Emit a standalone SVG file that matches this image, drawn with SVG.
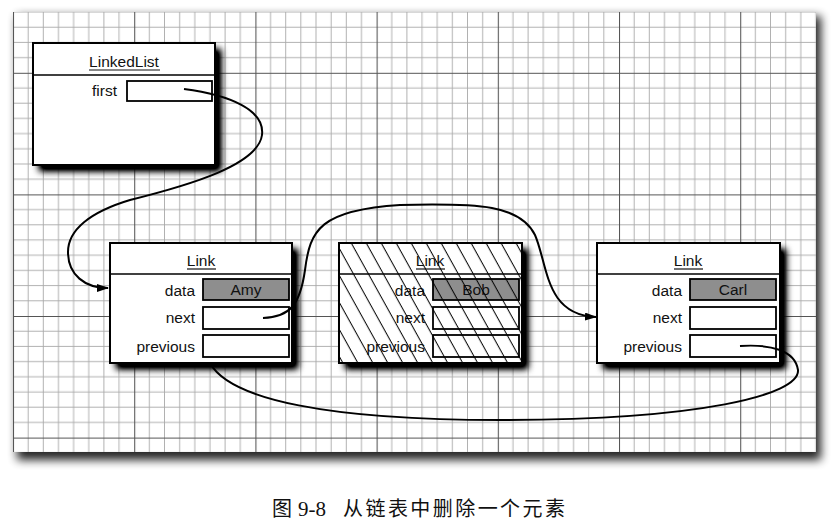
<svg xmlns="http://www.w3.org/2000/svg" width="832" height="526" viewBox="0 0 832 526">
<style>
.box{fill:#fff;stroke:#000;stroke-width:2}
.fld{fill:#fff;stroke:#000;stroke-width:1.8}
.dat{fill:#8e8e8e;stroke:#000;stroke-width:1.8}
.div{stroke:#000;stroke-width:1.5}
.t{font-family:"Liberation Sans",Arial,sans-serif;font-size:15.5px;fill:#111}
.r{text-anchor:end}
.c{text-anchor:middle}
.ul{stroke:#111;stroke-width:1.2}
.sh{fill:#000;filter:url(#blur)}
.edge{fill:none;stroke:#000;stroke-width:2}
.cap{font-family:"Noto Sans CJK SC","Liberation Serif",serif;font-size:20px;fill:#111}
</style>
<defs>
<filter id="blur" x="-20%" y="-20%" width="140%" height="140%"><feGaussianBlur stdDeviation="3.5"/><feComponentTransfer><feFuncA type="linear" slope="1.4"/></feComponentTransfer></filter>
<filter id="pblur" x="-10%" y="-10%" width="120%" height="130%"><feGaussianBlur stdDeviation="5"/></filter>
<pattern id="grid" patternUnits="userSpaceOnUse" x="13" y="72.8" width="121.2" height="121.6">
<g stroke="#a8a8a8" stroke-width="0.9">
<path d="M15.15,0V121.6M30.3,0V121.6M45.45,0V121.6M60.6,0V121.6M75.75,0V121.6M90.9,0V121.6M106.05,0V121.6"/>
<path d="M0,15.2H121.2M0,30.4H121.2M0,45.6H121.2M0,60.8H121.2M0,76H121.2M0,91.2H121.2M0,106.4H121.2"/>
</g>
<path d="M0.5,0V121.6M0,0.5H121.2" stroke="#555" stroke-width="1.1"/>
</pattern>
<pattern id="hatch" patternUnits="userSpaceOnUse" width="13.1" height="20" patternTransform="rotate(-29)">
<path d="M6,0V20" stroke="#000" stroke-width="1"/>
</pattern>
<marker id="arr" markerWidth="12" markerHeight="8" refX="11" refY="4" orient="auto" markerUnits="userSpaceOnUse">
<path d="M0,0L12,4L0,8z" fill="#000"/>
</marker>
<clipPath id="bobclip"><rect x="339" y="243" width="183" height="120"/></clipPath>
</defs>

<g id="paper">
<rect x="17" y="16" width="804" height="444" fill="#000" opacity="0.85" filter="url(#pblur)"/>
<rect x="13" y="12" width="803" height="440" fill="#fff"/>
<rect x="13" y="12" width="803" height="440" fill="url(#grid)"/>
</g>

<g id="linkedlist">
<rect x="39" y="49" width="182" height="122" class="sh"/>
<rect x="33" y="43" width="182" height="122" class="box"/>
<line x1="33" y1="75" x2="215" y2="75" class="div"/>
<text x="124" y="67" class="t c">LinkedList</text>
<line x1="89" y1="70" x2="160" y2="70" class="ul"/>
<text x="117" y="96" class="t r">first</text>
<rect x="127" y="81" width="85" height="20" class="fld"/>
</g>

<g id="amy">
<rect x="116" y="249" width="182" height="120" class="sh"/>
<rect x="110" y="243" width="182" height="120" class="box"/>
<line x1="110" y1="274" x2="292" y2="274" class="div"/>
<text x="201" y="266" class="t c">Link</text>
<line x1="187" y1="269" x2="216" y2="269" class="ul"/>
<text x="195" y="296" class="t r">data</text>
<text x="195" y="323" class="t r">next</text>
<text x="195" y="352" class="t r">previous</text>
<rect x="203" y="279" width="86" height="21" class="dat"/>
<text x="246" y="295" class="t c">Amy</text>
<rect x="203" y="307" width="86" height="22" class="fld"/>
<rect x="203" y="335" width="86" height="22" class="fld"/>
</g>

<g id="bob">
<rect x="345" y="249" width="183" height="120" class="sh"/>
<rect x="339" y="243" width="183" height="120" class="box"/>
<line x1="339" y1="274" x2="522" y2="274" class="div"/>
<text x="430" y="266" class="t c">Link</text>
<line x1="416" y1="269" x2="445" y2="269" class="ul"/>
<text x="425" y="296" class="t r">data</text>
<text x="425" y="323" class="t r">next</text>
<text x="425" y="352" class="t r">previous</text>
<rect x="433" y="279" width="86" height="21" class="dat"/>
<text x="476" y="295" class="t c">Bob</text>
<rect x="433" y="307" width="86" height="22" class="fld"/>
<rect x="433" y="335" width="86" height="22" class="fld"/>
<rect x="339" y="243" width="183" height="120" fill="url(#hatch)" clip-path="url(#bobclip)"/>
<rect x="339" y="243" width="183" height="120" fill="none" stroke="#000" stroke-width="2"/>
</g>

<g id="carl">
<rect x="603" y="249" width="183" height="120" class="sh"/>
<rect x="597" y="243" width="183" height="120" class="box"/>
<line x1="597" y1="274" x2="780" y2="274" class="div"/>
<text x="688" y="266" class="t c">Link</text>
<line x1="674" y1="269" x2="703" y2="269" class="ul"/>
<text x="682" y="296" class="t r">data</text>
<text x="682" y="323" class="t r">next</text>
<text x="682" y="352" class="t r">previous</text>
<rect x="690" y="279" width="86" height="21" class="dat"/>
<text x="733" y="295" class="t c">Carl</text>
<rect x="690" y="307" width="86" height="22" class="fld"/>
<rect x="690" y="335" width="86" height="22" class="fld"/>
</g>

<g id="connectors">
<path class="edge" marker-end="url(#arr)" d="M184,89 C230,95 265,110 262,135 C258,165 190,185 130,200 C90,212 68,230 68,252 C68,275 85,288 108,288"/>
<path class="edge" marker-end="url(#arr)" d="M263,318 C290,317 300,305 305,270 C310,230 320,210 400,205 C480,203 520,205 535,235 C548,265 545,315 596,317"/>
<path class="edge" d="M740,346 C770,344 795,350 798,370 C800,395 700,420 500,420 C330,420 230,400 210,363"/>
</g>

<g id="caption">
<text x="272" y="516" class="cap">图</text>
<text x="298" y="516" font-family="'Liberation Serif',serif" font-size="21" fill="#111">9-8</text>
<text x="343" y="516" class="cap" textLength="222" lengthAdjust="spacing">从链表中删除一个元素</text>
</g>
</svg>
